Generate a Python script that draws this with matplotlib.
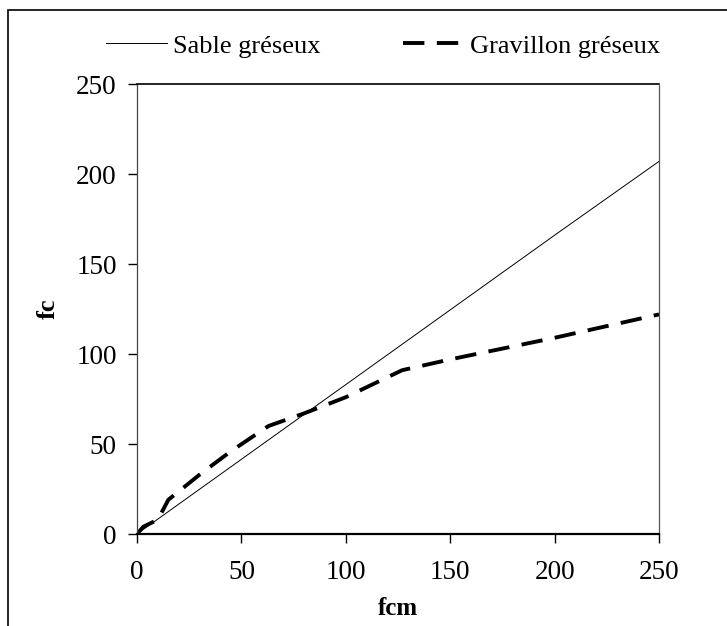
"""Sable / gravillon gréseux: fc vs fcm."""

import matplotlib
matplotlib.use("Agg")
import matplotlib.pyplot as plt
from matplotlib.patches import Rectangle

plt.rcParams["font.family"] = ["Liberation Serif", "DejaVu Serif"]

# data
sable_x = [0, 50, 100, 150, 200, 250]
sable_y = [0, 41.5, 83, 124.5, 166, 207]

gravillon_x = [0, 3, 10, 15, 30, 45, 63, 80, 100, 127, 150, 200, 250]
gravillon_y = [0, 4, 8, 19, 33, 46, 60, 67, 76, 91, 97, 109, 122]

ticks = [0, 50, 100, 150, 200, 250]

W, H = 727, 626
fig = plt.figure(figsize=(W / 100, H / 100), dpi=100)
ax = fig.add_axes([137 / W, 1 - 534 / H, 522 / W, 450 / H])

ax.plot(sable_x, sable_y, color="black", linewidth=0.7, label="Sable gréseux")
ax.plot(gravillon_x, gravillon_y, color="black", linewidth=2.8,
        dashes=(5.5, 3.2), label="Gravillon gréseux")

ax.set_xlim(0, 250)
ax.set_ylim(0, 250)
ax.set_xticks(ticks)
ax.set_yticks(ticks)
ax.tick_params(direction="out", length=6.5, width=1, labelsize=19.5)
ax.tick_params(axis="x", pad=12)
ax.tick_params(axis="y", pad=8)
ax.set_xlabel("fcm", fontsize=18, fontweight="bold", labelpad=9)
ax.set_ylabel("fc", fontsize=19, fontweight="bold", labelpad=12)

ax.spines["bottom"].set_linewidth(1.6)
ax.spines["top"].set_linewidth(1.2)
ax.spines["left"].set_linewidth(0.9)
ax.spines["left"].set_color("#444444")
ax.spines["right"].set_linewidth(0.9)
ax.spines["right"].set_color("#555555")
ax.spines["right"].set_linestyle((0, (3, 1)))

fig.legend(loc="center left", bbox_to_anchor=(106 / W, 1 - 46 / H), ncol=2,
           frameon=False, fontsize=19, handlelength=2.3, handletextpad=0.25,
           columnspacing=3.1, borderpad=0, borderaxespad=0)

# outer frame (left and top edges visible, the rest runs off the page)
fig.patches.append(Rectangle((8 / W, -0.05), 1.0, 1 - 10 / H + 0.05,
                             transform=fig.transFigure, fill=False,
                             edgecolor="black", linewidth=1.2))

fig.savefig("out.png", dpi=100)
plt.close(fig)
